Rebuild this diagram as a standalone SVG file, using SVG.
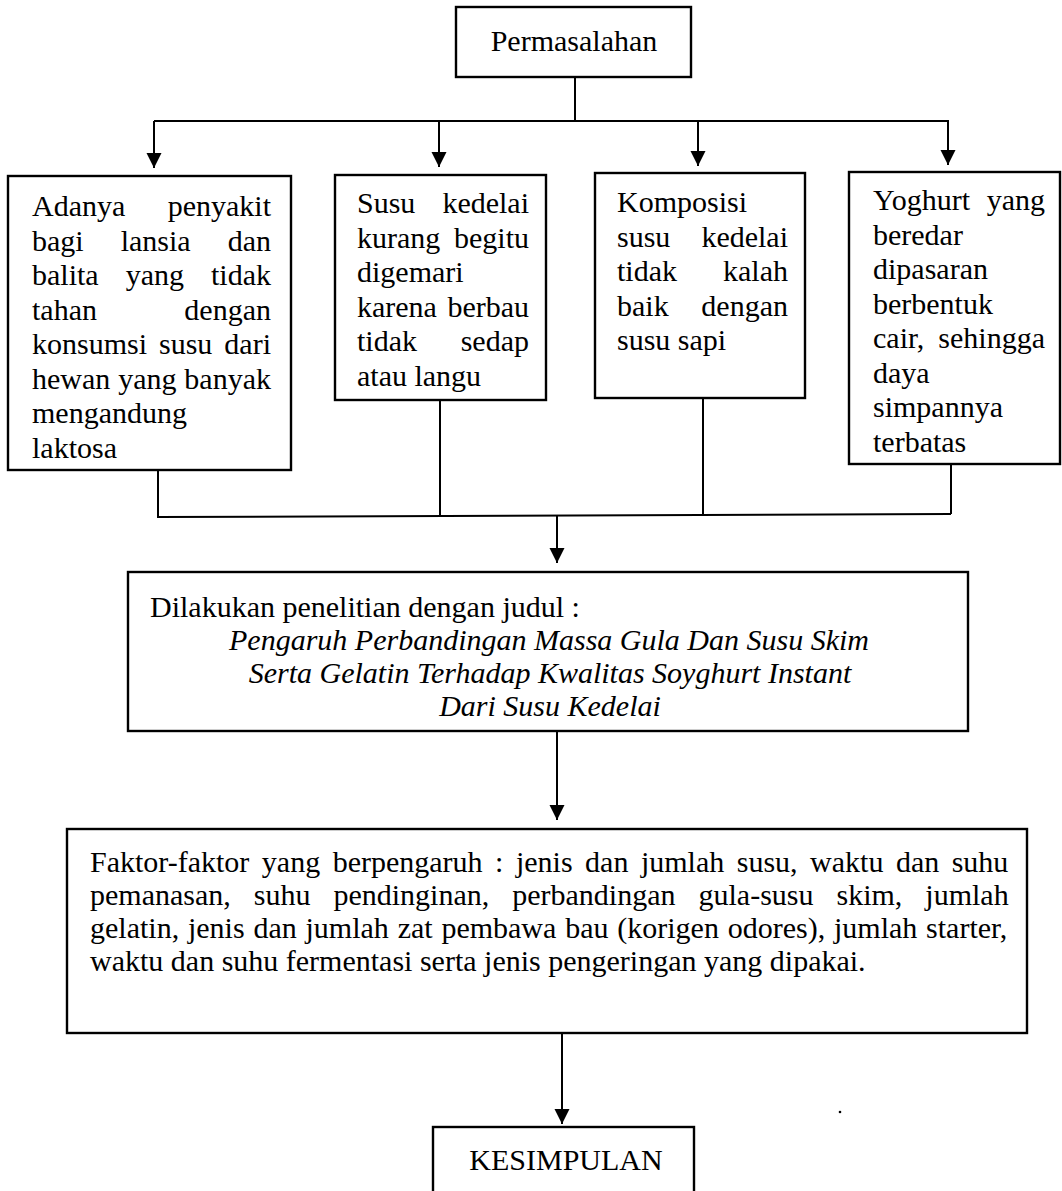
<svg xmlns="http://www.w3.org/2000/svg" width="1062" height="1191" viewBox="0 0 1062 1191">
<defs>
<style>
.box{fill:#fff;stroke:#000;stroke-width:2.4}
.ln{fill:none;stroke:#000;stroke-width:2}
text{font-family:"Liberation Serif","Times New Roman",serif;font-size:30px;fill:#000}
.it{font-style:italic}
.e{text-anchor:end}
.m{text-anchor:middle}
</style>
<marker id="ah" markerUnits="userSpaceOnUse" markerWidth="16" markerHeight="16" refX="15" refY="7.5" orient="auto">
<path d="M0,0 L15,7.5 L0,15 Z" fill="#000"/>
</marker>
</defs>
<rect width="1062" height="1191" fill="#fff"/>

<g id="connectors">
<line class="ln" x1="575" y1="77" x2="575" y2="121"/>
<line class="ln" x1="154" y1="121" x2="949" y2="121"/>
<line class="ln" x1="154" y1="121" x2="154" y2="168" marker-end="url(#ah)"/>
<line class="ln" x1="439" y1="121" x2="439" y2="167" marker-end="url(#ah)"/>
<line class="ln" x1="698" y1="121" x2="698" y2="166" marker-end="url(#ah)"/>
<line class="ln" x1="948" y1="121" x2="948" y2="165" marker-end="url(#ah)"/>
<line class="ln" x1="158" y1="470" x2="158" y2="517"/>
<line class="ln" x1="440" y1="400" x2="440" y2="516"/>
<line class="ln" x1="703" y1="398" x2="703" y2="515"/>
<line class="ln" x1="951" y1="464" x2="951" y2="514"/>
<polyline class="ln" points="157,517 951,514"/>
<line class="ln" x1="557" y1="516" x2="557" y2="563" marker-end="url(#ah)"/>
<line class="ln" x1="557" y1="731" x2="557" y2="820" marker-end="url(#ah)"/>
<line class="ln" x1="562" y1="1033" x2="562" y2="1124" marker-end="url(#ah)"/>
</g>

<g id="permasalahan">
<rect class="box" x="456" y="7" width="235" height="70"/>
<text class="m" x="574" y="51">Permasalahan</text>
</g>

<g id="masalah1">
<rect class="box" x="8" y="176" width="283" height="294"/>
<text x="32" y="216">Adanya</text><text class="e" x="271" y="216">penyakit</text>
<text x="32" y="251">bagi</text><text x="120.7" y="251">lansia</text><text class="e" x="271" y="251">dan</text>
<text x="32" y="285">balita</text><text x="125.7" y="285">yang</text><text class="e" x="271" y="285">tidak</text>
<text x="32" y="320">tahan</text><text class="e" x="271" y="320">dengan</text>
<text x="32" y="354">konsumsi</text><text x="159" y="354">susu</text><text class="e" x="271" y="354">dari</text>
<text x="32" y="389">hewan</text><text x="118.2" y="389">yang</text><text class="e" x="271" y="389">banyak</text>
<text x="32" y="423">mengandung</text>
<text x="32" y="458">laktosa</text>
</g>

<g id="masalah2">
<rect class="box" x="335" y="175" width="211" height="225"/>
<text x="357" y="213">Susu</text><text class="e" x="529" y="213">kedelai</text>
<text x="357" y="247.5">kurang</text><text class="e" x="529" y="247.5">begitu</text>
<text x="357" y="282">digemari</text>
<text x="357" y="316.5">karena</text><text class="e" x="529" y="316.5">berbau</text>
<text x="357" y="351">tidak</text><text class="e" x="529" y="351">sedap</text>
<text x="357" y="385.5">atau langu</text>
</g>

<g id="masalah3">
<rect class="box" x="595" y="173" width="210" height="225"/>
<text x="617" y="212">Komposisi</text>
<text x="617" y="246.5">susu</text><text class="e" x="788" y="246.5">kedelai</text>
<text x="617" y="281">tidak</text><text class="e" x="788" y="281">kalah</text>
<text x="617" y="315.5">baik</text><text class="e" x="788" y="315.5">dengan</text>
<text x="617" y="350">susu sapi</text>
</g>

<g id="masalah4">
<rect class="box" x="849" y="172" width="211" height="292"/>
<text x="873" y="210">Yoghurt</text><text class="e" x="1045" y="210">yang</text>
<text x="873" y="244.5">beredar</text>
<text x="873" y="279">dipasaran</text>
<text x="873" y="313.5">berbentuk</text>
<text x="873" y="348">cair,</text><text class="e" x="1045" y="348">sehingga</text>
<text x="873" y="382.5">daya</text>
<text x="873" y="417">simpannya</text>
<text x="873" y="451.5">terbatas</text>
</g>

<g id="penelitian">
<rect class="box" x="128" y="572" width="840" height="159"/>
<text x="150" y="617">Dilakukan penelitian dengan judul :</text>
<text class="it m" x="549" y="650">Pengaruh Perbandingan Massa Gula Dan Susu Skim</text>
<text class="it m" x="550" y="683">Serta Gelatin Terhadap Kwalitas Soyghurt Instant</text>
<text class="it m" x="550" y="716">Dari Susu Kedelai</text>
</g>

<g id="faktor">
<rect class="box" x="67" y="829" width="960" height="204"/>
<text x="90" y="872" style="word-spacing:5px">Faktor-faktor yang berpengaruh : jenis dan jumlah susu, waktu dan suhu</text>
<text x="90" y="905" style="word-spacing:15.5px">pemanasan, suhu pendinginan, perbandingan gula-susu skim, jumlah</text>
<text x="90" y="938" style="word-spacing:1.3px">gelatin, jenis dan jumlah zat pembawa bau (korigen odores), jumlah starter,</text>
<text x="90" y="971">waktu dan suhu fermentasi serta jenis pengeringan yang dipakai.</text>
</g>

<g id="kesimpulan">
<rect class="box" x="433" y="1127" width="261" height="80"/>
<text class="m" x="566" y="1170">KESIMPULAN</text>
</g>

<circle cx="840" cy="1112" r="1.3" fill="#000"/>
</svg>
